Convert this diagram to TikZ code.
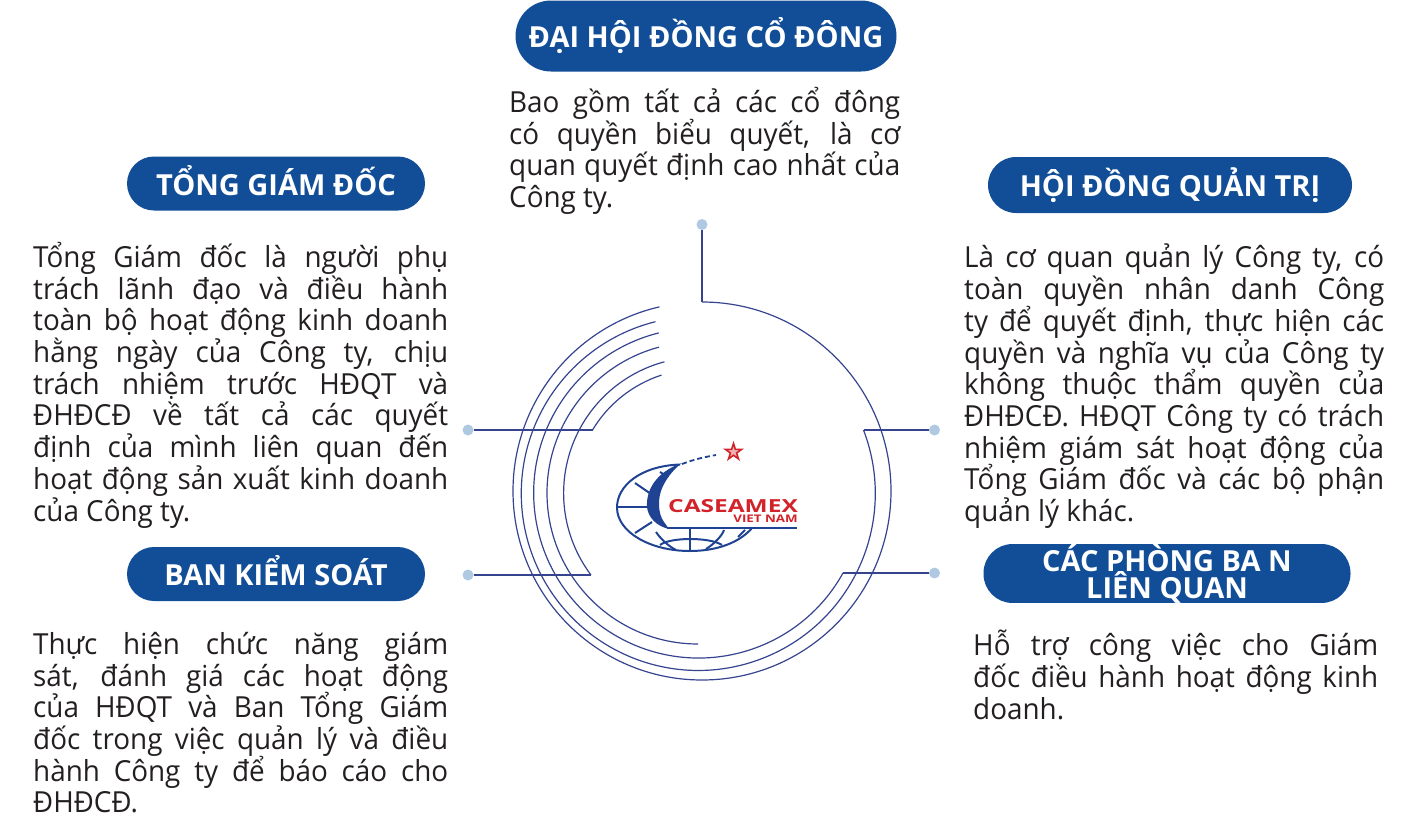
\documentclass[tikz,border=0pt]{standalone}
\usepackage{fontspec}
\usepackage{graphicx}
\setmainfont{Open Sans}
\newfontfamily\bodyfont{Open Sans}[FakeStretch=0.96]
\usetikzlibrary{calc,shapes.geometric}
\definecolor{pillblue}{HTML}{114E97}
\definecolor{linkblue}{HTML}{36448F}
\definecolor{dotblue}{HTML}{AFC9E3}
\definecolor{bodyink}{HTML}{231F20}
\definecolor{logored}{HTML}{D2232A}
\definecolor{logoblue}{HTML}{1F4392}
\newcommand{\tightlines}{\lineskiplimit=-30pt\relax}
\tikzset{
 pill/.style={fill=pillblue,rounded corners=#1,inner sep=0pt,text=white,align=center,font=\fontsize{29}{27}\selectfont\bfseries\tightlines},
 oneline/.style={text height=23.5pt,text depth=0pt},
 body/.style={anchor=north west,inner sep=0pt,text=bodyink,align=justify,font=\bodyfont\fontsize{29}{31.7}\selectfont\tightlines},
 dot/.style={circle,fill=dotblue,minimum size=11pt,inner sep=0pt},
 link/.style={draw=linkblue,line width=1.5pt},
 ring/.style={draw=linkblue,line width=1.2pt},
 globe/.style={draw=logoblue,line width=2pt},
}
\newcommand{\nl}{\linebreak}
\begin{document}
\begin{tikzpicture}[x=1pt,y=-1pt]
\useasboundingbox (0,0) rectangle (1411,822);
% pills
\node[pill=35.5pt,oneline,minimum width=381pt,minimum height=71pt] (dh) at (706,36) {ĐẠI HỘI ĐỒNG CỔ ĐÔNG};
\node[pill=27pt,oneline,minimum width=298pt,minimum height=54pt] (tg) at (276,183.5) {TỔNG GIÁM ĐỐC};
\node[pill=28pt,oneline,minimum width=364pt,minimum height=56pt] (hd) at (1170,185) {HỘI ĐỒNG QUẢN TRỊ};
\node[pill=27pt,oneline,minimum width=298pt,minimum height=54pt] (bk) at (276,574) {BAN KIỂM SOÁT};
\node[pill=29pt,minimum width=367pt,minimum height=58pt] (cp) at (1167,573.5) {CÁC PHÒNG BA N\\LIÊN QUAN};
% body text
\node[body,text width=391pt] (t1) at (509,87) {Bao gồm tất cả các cổ đông\nl có quyền biểu quyết, là cơ\nl quan quyết định cao nhất của\nl Công ty.};
\node[body,text width=415pt] (t2) at (33,242) {Tổng Giám đốc là người phụ\nl trách lãnh đạo và điều hành\nl toàn bộ hoạt động kinh doanh\nl hằng ngày của Công ty, chịu\nl trách nhiệm trước HĐQT và\nl ĐHĐCĐ về tất cả các quyết\nl định của mình liên quan đến\nl hoạt động sản xuất kinh doanh\nl của Công ty.};
\node[body,text width=420pt] (t3) at (964,244) {Là cơ quan quản lý Công ty, có\nl toàn quyền nhân danh Công\nl ty để quyết định, thực hiện các\nl quyền và nghĩa vụ của Công ty\nl không thuộc thẩm quyền của\nl ĐHĐCĐ. HĐQT Công ty có trách\nl nhiệm giám sát hoạt động của\nl Tổng Giám đốc và các bộ phận\nl quản lý khác.};
\node[body,text width=415pt] (t4) at (33,632) {Thực hiện chức năng giám\nl sát, đánh giá các hoạt động\nl của HĐQT và Ban Tổng Giám\nl đốc trong việc quản lý và điều\nl hành Công ty để báo cáo cho\nl ĐHĐCĐ.};
\node[body,text width=405pt] (t5) at (973,630) {Hỗ trợ công việc cho Giám\nl đốc điều hành hoạt động kinh\nl doanh.};
% dots and elbows
\node[dot] (d1) at (702,224.5) {};
\node[dot] (d2) at (468,430) {};
\node[dot] (d3) at (934.5,430) {};
\node[dot] (d4) at (468,575) {};
\node[dot] (d5) at (934.5,573) {};
\coordinate (e1) at (702,302);
\coordinate (e2) at (592.5,430);
\coordinate (e3) at (863.5,430);
\coordinate (e4) at (591,575);
\coordinate (e5) at (843,573);
\draw[link] (d1) -- (e1);
\draw[link] (d2) -- (e2);
\draw[link] (d3) -- (e3);
\draw[link] (d4) -- (e4);
\draw[link] (d5) -- (e5);
% rings: y axis points down, so increasing angle runs clockwise on screen
\draw[ring] (e1) arc[start angle=-90,end angle=257,radius=189];
\draw[ring] (e3) arc[start angle=-21,end angle=256,radius=177];
\draw[ring] (e5) arc[start angle=29,end angle=256,radius=165];
\draw[ring] (e4) arc[start angle=143,end angle=255,radius=136];
\draw[ring] (698,644) arc[start angle=90,end angle=255,radius=151];
\draw[ring] (e2) arc[start angle=211,end angle=252,radius=126];
% logo: globe
\draw[globe] (680,464.5) .. controls (640,466) and (617,486) .. (617,507.5)
  .. controls (617,532) and (650,551) .. (690,551) .. controls (718,551) and (740,542) .. (752,528);
\fill[logoblue] (682,463) .. controls (656,472) and (646,490) .. (647,507)
  .. controls (648,517) and (656,526) .. (669,529) -- (664,522) .. controls (658,514) and (657,498) .. (663,486) .. controls (668,476) and (675,468) .. (682,463) -- cycle;
\draw[logoblue,line width=1.8pt,dash pattern=on 5pt off 3pt] (682,464) .. controls (695,459) and (705,457) .. (716,455);
\draw[globe] (617,507) -- (648,507);
\draw[globe] (635,483) -- (651,494);
\draw[globe] (635,533) -- (652,522);
\draw[globe] (660,472) -- (668,477);
\draw[logoblue,line width=2.4pt] (667,528) -- (797,528);
\draw[globe] (690,528) -- (690,551);
\draw[globe] (660,545) .. controls (670,537) and (710,537) .. (722,545);
\draw[globe] (656,532) .. controls (660,538) and (668,546) .. (676,550);
\draw[globe] (724,530) .. controls (722,536) and (714,544) .. (706,549);
\draw[globe] (745,530) -- (738,537);
% logo: star and lettering
\node[star,star points=5,star point ratio=2.6,draw=logored,fill=logored!35,line width=1.6pt,minimum size=17pt,inner sep=0pt] (st) at (733.5,452) {};
\node[inner sep=0pt,text=logored,font=\fontsize{18}{18}\selectfont\bfseries] (lg) at (733,506.5) {\scalebox{1.36}[1]{CASEAMEX}};
\node[inner sep=0pt,text=logored,font=\fontsize{10.5}{10.5}\selectfont\bfseries] (vn) at (765.5,519) {\scalebox{1.27}[1]{VIET NAM}};
\end{tikzpicture}
\end{document}
